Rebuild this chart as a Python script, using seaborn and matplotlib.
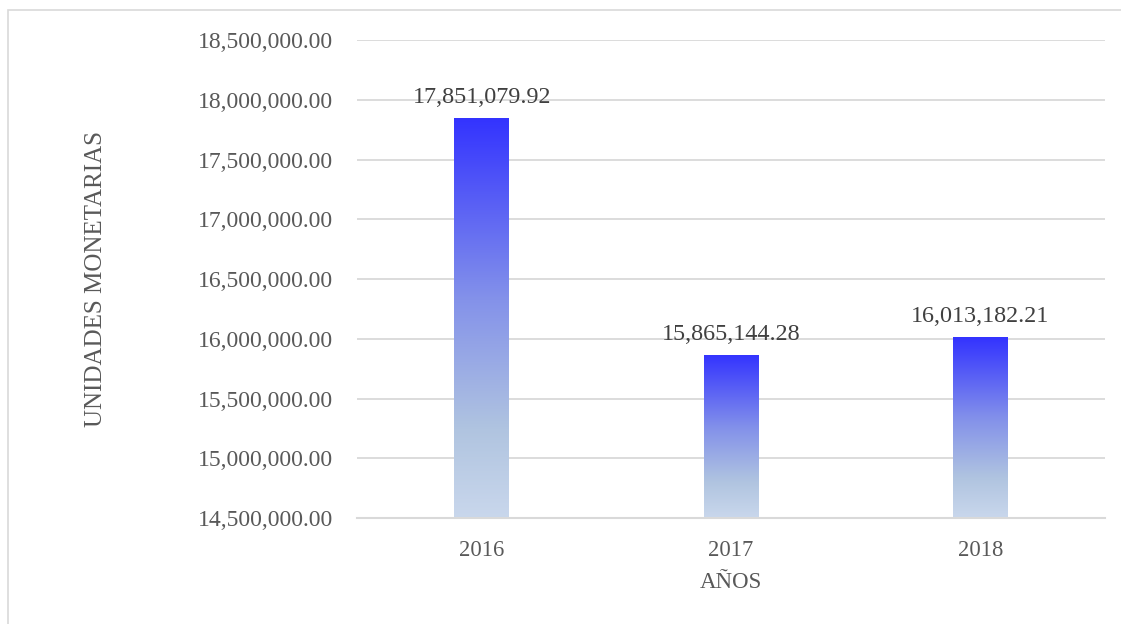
import matplotlib
matplotlib.use("Agg")
import matplotlib.pyplot as plt
import seaborn as sns
import numpy as np
import pandas as pd
from matplotlib.colors import LinearSegmentedColormap
from matplotlib.patches import Rectangle
from matplotlib.ticker import FuncFormatter, MultipleLocator

years = ["2016", "2017", "2018"]
values = [17851079.92, 15865144.28, 16013182.21]
y_min, y_max, y_step = 14500000, 18500000, 500000

sns.set_theme(style="white")
plt.rcParams['font.family'] = ['Liberation Serif', 'DejaVu Serif']

text_color = "#595959"
grid_color = "#D9D9D9"

df = pd.DataFrame({"year": years, "value": values})

fig = plt.figure(figsize=(11.21, 6.24), dpi=100)
ax = fig.add_axes([357/1121, 1-518/624, (1105-357)/1121, (518-40)/624])

sns.barplot(data=df, x="year", y="value", ax=ax, width=0.22, color="#3333FF", saturation=1)

ax.set_ylim(y_min, y_max)
ax.yaxis.set_major_locator(MultipleLocator(y_step))
ax.yaxis.set_major_formatter(FuncFormatter(lambda v, p: f"{v:,.2f}"))
ax.grid(axis="y", color=grid_color, linewidth=1.3)
ax.set_axisbelow(True)
for s in ["top", "right", "left"]:
    ax.spines[s].set_visible(False)
ax.spines["bottom"].set_color(grid_color)
ax.spines["bottom"].set_linewidth(1.5)
ax.tick_params(axis="y", length=0, labelsize=17, colors=text_color, pad=17)
ax.tick_params(axis="x", length=0, labelsize=16.3, colors=text_color, pad=16)
ax.set_xlabel("AÑOS", fontsize=16.5, color=text_color, labelpad=8)
ax.set_ylabel("UNIDADES MONETARIAS", fontsize=18, color=text_color, labelpad=0)
ax.yaxis.set_label_coords((107-357)/(1105-357), 0.5)

cmap = LinearSegmentedColormap.from_list(
    "grad", [(0.0, "#3333FF"), (0.45, "#8391EA"), (0.78, "#B0C4E0"), (1.0, "#C9D7EC")])
grad = np.linspace(0, 1, 256).reshape(-1, 1)

for patch, v in zip(ax.patches, values):
    x0 = patch.get_x()
    w = patch.get_width()
    patch.set_facecolor("none")
    patch.set_edgecolor("none")
    im = ax.imshow(grad, cmap=cmap, aspect="auto",
                   extent=[x0, x0 + w, y_min, v], origin="upper", zorder=2)
    im.set_clip_path(patch)
    ax.annotate(f"{v:,.2f}", (x0 + w/2, v), xytext=(0, 7), textcoords="offset points",
                ha="center", va="bottom", fontsize=17.4, color="#404040")

ax.set_xlim(-0.5, 2.5)
ax.set_ylim(y_min, y_max)

fig.patches.append(Rectangle((8/1121, -0.1), 1.2, 1 - 10/624 + 0.1, transform=fig.transFigure,
                             fill=False, edgecolor="#D9D9D9", linewidth=1.2))

fig.savefig("out.png", dpi=100)
